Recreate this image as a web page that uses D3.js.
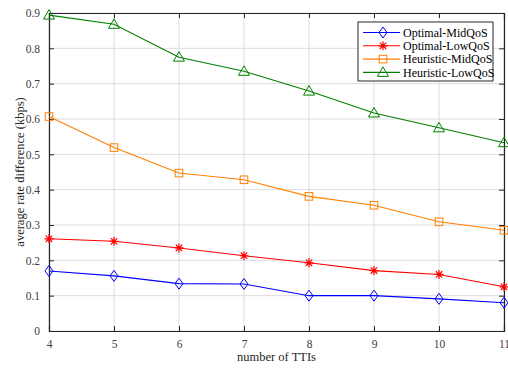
<!DOCTYPE html>
<html>
<head>
<meta charset="utf-8">
<script src="https://cdn.jsdelivr.net/npm/d3@7"></script>
<style>
  body { margin: 0; background: #fff; }
  text { font-family: "Liberation Serif", "Times New Roman", serif; }
</style>
</head>
<body>
<svg class="svg_rate" width="508" height="369"></svg>
<script>
// number of TTIs on x
var ttis = [4, 5, 6, 7, 8, 9, 10, 11];

// average rate difference per scheme (kbps)
var optimalMid = [0.170, 0.156, 0.134, 0.133, 0.100, 0.100, 0.091, 0.080];
var optimalLow = [0.261, 0.254, 0.235, 0.213, 0.193, 0.171, 0.160, 0.125];
var heuristicMid = [0.607, 0.519, 0.447, 0.428, 0.381, 0.356, 0.309, 0.285];
var heuristicLow = [0.894, 0.868, 0.775, 0.735, 0.679, 0.617, 0.575, 0.533];

var seriesNames = ["Optimal-MidQoS", "Optimal-LowQoS", "Heuristic-MidQoS", "Heuristic-LowQoS"];
var yTicks = [0, 0.1, 0.2, 0.3, 0.4, 0.5, 0.6, 0.7, 0.8, 0.9];

var series = [
    {name: seriesNames[0], values: optimalMid, color: "#0000ff", marker: "diamond"},
    {name: seriesNames[1], values: optimalLow, color: "#ff0000", marker: "star"},
    {name: seriesNames[2], values: heuristicMid, color: "#ff8000", marker: "square"},
    {name: seriesNames[3], values: heuristicLow, color: "#008000", marker: "triangle"}
];

var svg = d3.select(".svg_rate"),
    margin = {top: 13, right: 4, bottom: 38, left: 49},
    width = +svg.attr("width") - margin.left - margin.right,
    height = +svg.attr("height") - margin.top - margin.bottom,
    g = svg.append("g").attr("transform", "translate(" + margin.left + "," + margin.top + ")");

var x = d3.scaleLinear().domain([4, 11]).range([0, width]),
    y = d3.scaleLinear().domain([0, 0.9]).range([height, 0]);

// grid
g.append("g").selectAll("line").data(ttis).enter().append("line")
    .attr("x1", function(d) { return x(d); }).attr("x2", function(d) { return x(d); })
    .attr("y1", 0).attr("y2", height)
    .attr("stroke", "#dcdcdc").attr("stroke-width", 1);
g.append("g").selectAll("line").data(yTicks).enter().append("line")
    .attr("x1", 0).attr("x2", width)
    .attr("y1", function(d) { return y(d); }).attr("y2", function(d) { return y(d); })
    .attr("stroke", "#dcdcdc").attr("stroke-width", 1);

// axes, ticks pointing inward like matlab
var axisColor = "#262626";
var xb = g.append("g").attr("transform", "translate(0," + height + ")")
    .call(d3.axisBottom(x).tickValues(ttis).tickSize(-5).tickPadding(9).tickFormat(d3.format("d")));
var xt = g.append("g")
    .call(d3.axisTop(x).tickValues(ttis).tickSize(-5).tickFormat(""));
var yl = g.append("g")
    .call(d3.axisLeft(y).tickValues(yTicks).tickSize(-5).tickPadding(9).tickFormat(function(d) { return d === 0 ? "0" : d3.format(".1f")(d); }));
var yr = g.append("g").attr("transform", "translate(" + width + ",0)")
    .call(d3.axisRight(y).tickValues(yTicks).tickSize(-5).tickFormat(""));

[xb, xt, yl, yr].forEach(function(a) {
    a.select(".domain").attr("stroke", axisColor).attr("stroke-width", 1.2);
    a.selectAll(".tick line").attr("stroke", axisColor);
    a.selectAll("text").attr("fill", "#404040").style("font-size", "11.5px");
});

// axis labels
svg.append("text")
    .attr("x", margin.left + width / 2)
    .attr("y", 361)
    .attr("text-anchor", "middle")
    .attr("fill", "#262626")
    .style("font-size", "12.5px")
    .text("number of TTIs");

svg.append("text")
    .attr("transform", "translate(24," + (margin.top + height / 2) + ") rotate(-90)")
    .attr("text-anchor", "middle")
    .attr("fill", "#262626")
    .style("font-size", "12.5px")
    .text("average rate difference (kbps)");

// marker drawing
function drawMarker(sel, type, color) {
    if (type === "diamond") {
        sel.append("path").attr("d", "M0,-5.5L4,0L0,5.5L-4,0Z")
            .attr("fill", "none").attr("stroke", color).attr("stroke-width", 1);
    } else if (type === "square") {
        sel.append("rect").attr("x", -3.8).attr("y", -3.8).attr("width", 7.6).attr("height", 7.6)
            .attr("fill", "none").attr("stroke", color).attr("stroke-width", 1);
    } else if (type === "triangle") {
        sel.append("path").attr("d", "M0,-5.5L5.5,4L-5.5,4Z")
            .attr("fill", "none").attr("stroke", color).attr("stroke-width", 1);
    } else if (type === "star") {
        sel.append("path").attr("d", "M-4.5,0H4.5M0,-4.5V4.5M-3.2,-3.2L3.2,3.2M-3.2,3.2L3.2,-3.2")
            .attr("fill", "none").attr("stroke", color).attr("stroke-width", 1.2);
    }
}

var line = d3.line()
    .x(function(d, i) { return x(ttis[i]); })
    .y(function(d) { return y(d); });

series.forEach(function(s) {
    g.append("path")
        .datum(s.values)
        .attr("d", line)
        .attr("fill", "none")
        .attr("stroke", s.color)
        .attr("stroke-width", 1.1);

    g.append("g").selectAll("g")
        .data(s.values)
        .enter().append("g")
        .attr("transform", function(d, i) { return "translate(" + x(ttis[i]) + "," + y(d) + ")"; })
        .each(function() { drawMarker(d3.select(this), s.marker, s.color); });
});

// legend
var legend = svg.append("g").attr("transform", "translate(358,22)");
legend.append("rect")
    .attr("width", 135).attr("height", 59)
    .attr("fill", "#fff").attr("stroke", "#262626").attr("stroke-width", 1);

var rows = legend.selectAll(".row")
    .data(series)
    .enter().append("g")
    .attr("class", "row")
    .attr("transform", function(d, i) { return "translate(0," + (10.5 + i * 13.3) + ")"; });

rows.append("line")
    .attr("x1", 5).attr("x2", 42).attr("y1", 0).attr("y2", 0)
    .attr("stroke", function(d) { return d.color; }).attr("stroke-width", 1.1);
rows.each(function(d) {
    var m = d3.select(this).append("g").attr("transform", "translate(25,0)");
    drawMarker(m, d.marker, d.color);
});
rows.append("text")
    .attr("x", 45).attr("y", 0).attr("dy", "0.35em")
    .attr("fill", "#000")
    .style("font-size", "12px")
    .text(function(d) { return d.name; });
</script>
</body>
</html>
